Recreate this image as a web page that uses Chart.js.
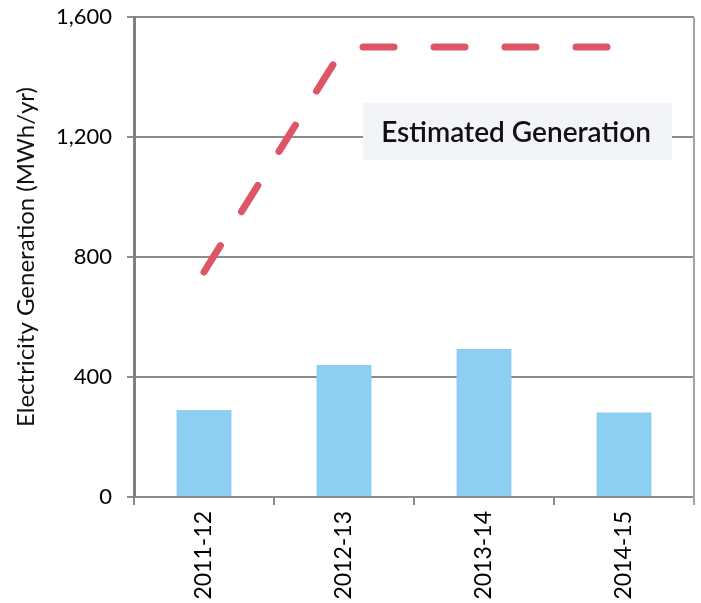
<!DOCTYPE html>
<html>
<head>
<meta charset="utf-8">
<script src="https://cdn.jsdelivr.net/npm/chart.js@4.4.1/dist/chart.umd.min.js"></script>
<style>
  html, body { margin: 0; padding: 0; background: #ffffff; }
  #wrap { width: 701px; height: 603px; }
</style>
</head>
<body>
<div id="wrap"><canvas id="grafico" width="701" height="603"></canvas></div>
<script>
// values
const years = ['2011-12', '2012-13', '2013-14', '2014-15'];
const actualGeneration = [290, 440, 493, 282];
const estimatedGeneration = [750, 1500, 1500, 1500];
const yTicks = [0, 400, 800, 1200, 1600];
const estimatedLabel = 'Estimated Generation';
const yTitle = 'Electricity Generation (MWh/yr)';

const FONT = 'Lato';

// right border + the label box
const labelBox = {
  id: 'labelBox',
  beforeDatasetsDraw(chart) {
    const { ctx, chartArea } = chart;
    ctx.save();
    ctx.strokeStyle = '#a5a5a5';
    ctx.lineWidth = 2;
    ctx.beginPath();
    ctx.moveTo(chartArea.right, chartArea.top);
    ctx.lineTo(chartArea.right, chartArea.bottom + 8);
    ctx.stroke();
    ctx.restore();
  },
  afterDatasetsDraw(chart) {
    const { ctx } = chart;
    ctx.save();
    ctx.fillStyle = '#f2f4f7';
    ctx.fillRect(363, 103, 309, 57);
    ctx.fillStyle = '#111111';
    ctx.font = `600 28px ${FONT}`;
    ctx.textAlign = 'center';
    ctx.textBaseline = 'middle';
    ctx.fillText(estimatedLabel, 516, 133);
    ctx.restore();
  }
};

new Chart(document.getElementById('grafico'), {
  type: 'bar',
  data: {
    labels: years,
    datasets: [
      {
        type: 'line',
        data: estimatedGeneration,
        borderColor: '#de5566',
        borderWidth: 7,
        borderDash: [31, 40],
        borderCapStyle: 'round',
        pointRadius: 0,
        fill: false,
        tension: 0,
        order: 0
      },
      {
        data: actualGeneration,
        backgroundColor: '#8ecef0',
        barPercentage: 0.49,
        categoryPercentage: 0.8,
        order: 1
      }
    ]
  },
  options: {
    responsive: false,
    animation: false,
    layout: { padding: { top: 17, right: 7, left: 0, bottom: 0 } },
    plugins: {
      legend: { display: false },
      tooltip: { enabled: false }
    },
    scales: {
      x: {
        afterFit: (scale) => {
          scale.height = 106;
          scale.paddingLeft = 0;
          scale.paddingRight = 0;
        },
        grid: { offset: true, drawOnChartArea: false, tickLength: 8, color: '#8c8c8c', lineWidth: 2 },
        border: { color: '#8c8c8c', width: 2 },
        ticks: {
          color: '#000000',
          font: { family: FONT, size: 23 },
          minRotation: 90,
          maxRotation: 90,
          padding: 6
        }
      },
      y: {
        min: 0,
        max: 1600,
        afterFit: (scale) => {
          scale.width = 134;
          scale.paddingTop = 0;
          scale.paddingBottom = 0;
        },
        afterBuildTicks: (scale) => { scale.ticks = yTicks.map((v) => ({ value: v })); },
        grid: { color: '#8c8c8c', lineWidth: 2, tickLength: 7 },
        border: { color: '#808080', width: 3 },
        ticks: {
          color: '#000000',
          font: { family: FONT, size: 22 },
          padding: 15,
          callback: (v) => v.toLocaleString('en-US')
        },
        title: {
          display: true,
          text: yTitle,
          color: '#111111',
          font: { family: FONT, size: 24 },
          padding: { top: 12, bottom: 0 }
        }
      }
    }
  },
  plugins: [labelBox]
});
</script>
</body>
</html>
